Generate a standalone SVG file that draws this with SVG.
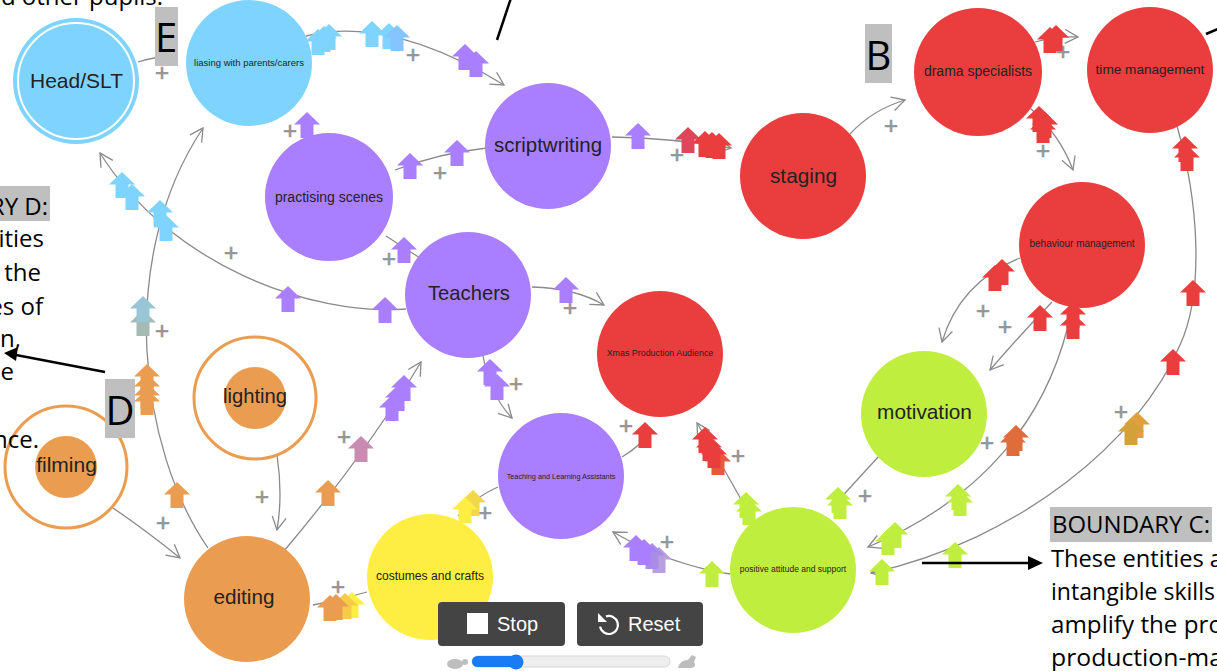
<svg xmlns="http://www.w3.org/2000/svg" xmlns:xlink="http://www.w3.org/1999/xlink" width="1217" height="671" viewBox="0 0 1217 671">
<style>
.edge{fill:none;stroke:#8a8a8a;stroke-width:1.3}
.lbl{font-family:"Liberation Sans",Arial,sans-serif;fill:#222;text-anchor:middle}
.plus{font-family:"Liberation Sans",Arial,sans-serif;font-size:24px;fill:#959595;stroke:#959595;stroke-width:0.7;text-anchor:middle}
.ann{font-family:"Open Sans","Noto Sans",sans-serif;font-size:24px;fill:#000}
.box{fill:#bfbfbf}
.big{font-family:"Open Sans","Noto Sans",sans-serif;font-size:40px;fill:#000;text-anchor:middle}
.btn{fill:#444}
.btxt{font-family:"Liberation Sans",Arial,sans-serif;font-size:20px;fill:#fff}
</style>
<defs>
<marker id="ah" markerUnits="userSpaceOnUse" markerWidth="30" markerHeight="30" viewBox="-15 -15 30 30" refX="0" refY="0" orient="auto">
<path d="M-13,-7 L0,0 L-13,7" fill="none" stroke="#8a8a8a" stroke-width="1.3"/>
</marker>
<path id="s" d="M0,-13 L13,-0.5 L6.5,-0.5 L6.5,13 L-6.5,13 L-6.5,-0.5 L-13,-0.5 Z"/>
</defs>
<rect width="1217" height="671" fill="#fff"/>

<g id="connectors">
<path class="edge" d="M138,62 Q158,56 177,55"/>
<path class="edge" d="M306,36 Q390,15 504,85" marker-end="url(#ah)"/>
<path class="edge" d="M406,309 C310,316 170,265 100,153" marker-end="url(#ah)"/>
<path class="edge" d="M208,548 C140,450 115,260 203,128" marker-end="url(#ah)"/>
<path class="edge" d="M113,508 Q148,532 180,558" marker-end="url(#ah)"/>
<path class="edge" d="M277,455 Q283,495 277,530" marker-end="url(#ah)"/>
<path class="edge" d="M284,551 Q365,455 421,362" marker-end="url(#ah)"/>
<path class="edge" d="M367,592 Q340,600 313,605"/>
<path class="edge" d="M498,487 Q475,497 458,516"/>
<path class="edge" d="M622,457 Q640,446 650,433"/>
<path class="edge" d="M483,356 Q490,395 512,418" marker-end="url(#ah)"/>
<path class="edge" d="M532,287 Q575,288 604,305" marker-end="url(#ah)"/>
<path class="edge" d="M748,512 Q725,470 697,423" marker-end="url(#ah)"/>
<path class="edge" d="M730,574 Q670,565 613,532" marker-end="url(#ah)"/>
<path class="edge" d="M879,456 L836,503"/>
<path class="edge" d="M1072,308 C1050,420 980,500 868,547" marker-end="url(#ah)"/>
<path class="edge" d="M1177,126 C1198,200 1205,290 1180,345 C1140,440 1020,540 871,573" marker-end="url(#ah)"/>
<path class="edge" d="M1020,258 Q960,282 942,342" marker-end="url(#ah)"/>
<path class="edge" d="M1052,302 Q1020,335 990,370" marker-end="url(#ah)"/>
<path class="edge" d="M1030,108 Q1060,135 1073,170" marker-end="url(#ah)"/>
<path class="edge" d="M1035,42 Q1055,36 1078,37" marker-end="url(#ah)"/>
<path class="edge" d="M850,134 Q872,110 905,100" marker-end="url(#ah)"/>
<path class="edge" d="M612,137 Q670,138 731,148" marker-end="url(#ah)"/>
<path class="edge" d="M487,148 Q440,153 395,170"/>
<path class="edge" d="M309,134 L306,121"/>
<path class="edge" d="M420,258 Q400,245 386,236"/>
<g id="plus-labels">
<text class="plus" x="162" y="81">+</text>
<text class="plus" x="413" y="63">+</text>
<text class="plus" x="290" y="139">+</text>
<text class="plus" x="440" y="181">+</text>
<text class="plus" x="677" y="163">+</text>
<text class="plus" x="891" y="134">+</text>
<text class="plus" x="1063" y="60">+</text>
<text class="plus" x="1043" y="159">+</text>
<text class="plus" x="231" y="261">+</text>
<text class="plus" x="389" y="267">+</text>
<text class="plus" x="162" y="339">+</text>
<text class="plus" x="570" y="316">+</text>
<text class="plus" x="516" y="392">+</text>
<text class="plus" x="626" y="434">+</text>
<text class="plus" x="738" y="464">+</text>
<text class="plus" x="983" y="319">+</text>
<text class="plus" x="1005" y="335">+</text>
<text class="plus" x="987" y="451">+</text>
<text class="plus" x="1121" y="420">+</text>
<text class="plus" x="865" y="504">+</text>
<text class="plus" x="262" y="505">+</text>
<text class="plus" x="163" y="531">+</text>
<text class="plus" x="344" y="445">+</text>
<text class="plus" x="338" y="595">+</text>
<text class="plus" x="485" y="521">+</text>
<text class="plus" x="667" y="550">+</text>
</g>
</g>

<g id="node-head">
<circle cx="76" cy="81" r="63" fill="#7FD4FF"/>
<circle cx="76" cy="81" r="58" fill="none" stroke="#fff" stroke-width="2"/>
<text class="lbl" x="76.5" y="88" font-size="21">Head/SLT</text>
</g>
<g id="node-liasing">
<circle cx="249" cy="63" r="63" fill="#7FD4FF"/>
<text class="lbl" x="249" y="66" font-size="9.5">liasing with parents/carers</text>
</g>
<g id="node-practising">
<circle cx="329" cy="197" r="64" fill="#A97FFF"/>
<text class="lbl" x="329" y="202" font-size="14">practising scenes</text>
</g>
<g id="node-scriptwriting">
<circle cx="548" cy="146" r="63" fill="#A97FFF"/>
<text class="lbl" x="548" y="152" font-size="20.5">scriptwriting</text>
</g>
<g id="node-staging">
<circle cx="803" cy="176" r="63" fill="#EA3E3E"/>
<text class="lbl" x="803.5" y="183" font-size="20.8">staging</text>
</g>
<g id="node-drama">
<circle cx="978" cy="72" r="64" fill="#EA3E3E"/>
<text class="lbl" x="978" y="76" font-size="14">drama specialists</text>
</g>
<g id="node-time">
<circle cx="1150" cy="70" r="63" fill="#EA3E3E"/>
<text class="lbl" x="1150" y="74" font-size="13.6">time management</text>
</g>
<g id="node-behaviour">
<circle cx="1082" cy="245" r="63" fill="#EA3E3E"/>
<text class="lbl" x="1082" y="247" font-size="10">behaviour management</text>
</g>
<g id="node-teachers">
<circle cx="468" cy="295" r="63" fill="#A97FFF"/>
<text class="lbl" x="469" y="300" font-size="20.2">Teachers</text>
</g>
<g id="node-xmas">
<circle cx="660" cy="354" r="63" fill="#EA3E3E"/>
<text class="lbl" x="660" y="356" font-size="8.9">Xmas Production Audience</text>
</g>
<g id="node-tla">
<circle cx="561" cy="476" r="63" fill="#A97FFF"/>
<text class="lbl" x="561" y="479" font-size="7.3">Teaching and Learning Assistants</text>
</g>
<g id="node-costumes">
<circle cx="430" cy="577" r="63" fill="#FEEE43"/>
<text class="lbl" x="430" y="580" font-size="12.1">costumes and crafts</text>
</g>
<g id="node-editing">
<circle cx="247" cy="599" r="63" fill="#EA9D51"/>
<text class="lbl" x="244" y="604" font-size="20.7">editing</text>
</g>
<g id="node-lighting">
<circle cx="255" cy="398" r="61" fill="none" stroke="#EA9D51" stroke-width="3"/>
<circle cx="255" cy="398" r="31" fill="#EA9D51"/>
<text class="lbl" x="255" y="403" font-size="20.2">lighting</text>
</g>
<g id="node-filming">
<circle cx="66" cy="467" r="61" fill="none" stroke="#EA9D51" stroke-width="3"/>
<circle cx="66" cy="467" r="31" fill="#EA9D51"/>
<text class="lbl" x="66.5" y="472" font-size="21">filming</text>
</g>
<g id="node-motivation">
<circle cx="924" cy="414" r="63" fill="#BFEE3F"/>
<text class="lbl" x="924.5" y="419" font-size="20.8">motivation</text>
</g>
<g id="node-positive">
<circle cx="793" cy="570" r="63" fill="#BFEE3F"/>
<text class="lbl" x="793" y="572" font-size="8.5">positive attitude and support</text>
</g>

<g id="signals">
<use href="#s" x="318" y="42" fill="#7FD4FF"/>
<use href="#s" x="324" y="39" fill="#7FD4FF"/>
<use href="#s" x="329" y="37" fill="#7FD4FF"/>
<use href="#s" x="372" y="34" fill="#7FD4FF"/>
<use href="#s" x="389" y="36" fill="#7FD4FF"/>
<use href="#s" x="397" y="38" fill="#84c4ff"/>
<use href="#s" x="465" y="57" fill="#A97FFF"/>
<use href="#s" x="476" y="64" fill="#A97FFF"/>
<use href="#s" x="638" y="136" fill="#A97FFF"/>
<use href="#s" x="688" y="140" fill="#e0465a"/>
<use href="#s" x="705" y="144" fill="#EA3E3E"/>
<use href="#s" x="712" y="145" fill="#EA3E3E"/>
<use href="#s" x="719" y="146" fill="#EA3E3E"/>
<use href="#s" x="457" y="153" fill="#A97FFF"/>
<use href="#s" x="410" y="166" fill="#A97FFF"/>
<use href="#s" x="307" y="125" fill="#A97FFF"/>
<use href="#s" x="1050" y="40" fill="#EA3E3E"/>
<use href="#s" x="1056" y="38" fill="#EA3E3E"/>
<use href="#s" x="1039" y="119" fill="#EA3E3E"/>
<use href="#s" x="1045" y="125" fill="#EA3E3E"/>
<use href="#s" x="1043" y="130" fill="#EA3E3E"/>
<use href="#s" x="1185" y="149" fill="#EA3E3E"/>
<use href="#s" x="1187" y="158" fill="#EA3E3E"/>
<use href="#s" x="122" y="185" fill="#7FD4FF"/>
<use href="#s" x="132" y="197" fill="#7FD4FF"/>
<use href="#s" x="160" y="213" fill="#7FD4FF"/>
<use href="#s" x="166" y="228" fill="#7FD4FF"/>
<use href="#s" x="143" y="323" fill="#a6bab4"/>
<use href="#s" x="143" y="309" fill="#99c6d6"/>
<use href="#s" x="147" y="402" fill="#EA9D51"/>
<use href="#s" x="147" y="396" fill="#EA9D51"/>
<use href="#s" x="147" y="387" fill="#EA9D51"/>
<use href="#s" x="147" y="377" fill="#EA9D51"/>
<use href="#s" x="177" y="495" fill="#EA9D51"/>
<use href="#s" x="288" y="299" fill="#A97FFF"/>
<use href="#s" x="385" y="310" fill="#A97FFF"/>
<use href="#s" x="404" y="250" fill="#A97FFF"/>
<use href="#s" x="566" y="290" fill="#A97FFF"/>
<use href="#s" x="490" y="372" fill="#A97FFF"/>
<use href="#s" x="497" y="387" fill="#A97FFF"/>
<use href="#s" x="392" y="408" fill="#A97FFF"/>
<use href="#s" x="398" y="398" fill="#A97FFF"/>
<use href="#s" x="404" y="388" fill="#A97FFF"/>
<use href="#s" x="361" y="449" fill="#c98bb0"/>
<use href="#s" x="328" y="493" fill="#EA9D51"/>
<use href="#s" x="352" y="605" fill="#FEEE43"/>
<use href="#s" x="345" y="606" fill="#f5cc48"/>
<use href="#s" x="336" y="607" fill="#EA9D51"/>
<use href="#s" x="330" y="608" fill="#EA9D51"/>
<use href="#s" x="473" y="503" fill="#f0d84a"/>
<use href="#s" x="465" y="510" fill="#FEEE43"/>
<use href="#s" x="645" y="435" fill="#EA3E3E"/>
<use href="#s" x="718" y="462" fill="#e8583d"/>
<use href="#s" x="714" y="455" fill="#EA3E3E"/>
<use href="#s" x="709" y="448" fill="#EA3E3E"/>
<use href="#s" x="705" y="440" fill="#EA3E3E"/>
<use href="#s" x="659" y="560" fill="#b7a0dc"/>
<use href="#s" x="652" y="556" fill="#a98be8"/>
<use href="#s" x="644" y="552" fill="#A97FFF"/>
<use href="#s" x="636" y="548" fill="#A97FFF"/>
<use href="#s" x="712" y="574" fill="#BFEE3F"/>
<use href="#s" x="746" y="505" fill="#BFEE3F"/>
<use href="#s" x="749" y="512" fill="#BFEE3F"/>
<use href="#s" x="838" y="500" fill="#BFEE3F"/>
<use href="#s" x="840" y="506" fill="#BFEE3F"/>
<use href="#s" x="1016" y="438" fill="#e06c3c"/>
<use href="#s" x="1013" y="443" fill="#e06c3c"/>
<use href="#s" x="958" y="497" fill="#BFEE3F"/>
<use href="#s" x="960" y="503" fill="#BFEE3F"/>
<use href="#s" x="895" y="535" fill="#BFEE3F"/>
<use href="#s" x="888" y="542" fill="#BFEE3F"/>
<use href="#s" x="882" y="572" fill="#BFEE3F"/>
<use href="#s" x="955" y="555" fill="#BFEE3F"/>
<use href="#s" x="1137" y="425" fill="#e0a040"/>
<use href="#s" x="1131" y="432" fill="#d4a03a"/>
<use href="#s" x="1173" y="362" fill="#EA3E3E"/>
<use href="#s" x="1193" y="293" fill="#EA3E3E"/>
<use href="#s" x="1002" y="272" fill="#EA3E3E"/>
<use href="#s" x="995" y="278" fill="#EA3E3E"/>
<use href="#s" x="1040" y="318" fill="#EA3E3E"/>
<use href="#s" x="1073" y="315" fill="#EA3E3E"/>
<use href="#s" x="1073" y="326" fill="#EA3E3E"/>
</g>

<g id="controls">
<rect class="btn" x="438" y="602" width="127" height="44" rx="4"/>
<rect x="467" y="613" width="21" height="21" fill="#fff"/>
<text class="btxt" x="497" y="631">Stop</text>
<rect class="btn" x="577" y="602" width="126" height="44" rx="4"/>
<path d="M605.9,616.5 A9,9 0 1 1 600.1,626.6" fill="none" stroke="#fff" stroke-width="2.2"/>
<polygon points="598,613 598,622 607,622" fill="#fff"/>
<text class="btxt" x="628" y="631">Reset</text>
<rect x="472" y="656" width="198" height="11" rx="5.5" fill="#eee" stroke="#d6d6d6"/>
<rect x="472" y="656" width="44" height="11" rx="5.5" fill="#1a7cf5"/>
<circle cx="516" cy="662" r="7.5" fill="#1a7cf5"/>
<ellipse cx="455" cy="664" rx="8" ry="5" fill="#bdbdbd"/>
<circle cx="465" cy="662" r="3" fill="#bdbdbd"/>
<path d="M678,668 Q680,660 688,660 L692,655 L696,657 L694,662 Q697,666 692,668 Z" fill="#bdbdbd"/>
</g>

<g id="annotations">
<text class="ann" x="163" y="5" text-anchor="end">d other pupils.</text>
<line x1="497" y1="40" x2="511" y2="-2" stroke="#000" stroke-width="2.5"/>
<line x1="1206" y1="34" x2="1220" y2="28" stroke="#000" stroke-width="2.5"/>
<rect class="box" x="155" y="7" width="23" height="59"/>
<text class="big" x="166" y="52">E</text>
<rect class="box" x="865" y="24" width="27" height="59"/>
<text class="big" x="878.5" y="70">B</text>
<rect class="box" x="105" y="379" width="30" height="59"/>
<text class="big" x="120" y="425" font-size="41">D</text>
<rect class="box" x="0" y="186" width="50" height="35"/>
<text class="ann" x="48" y="215" text-anchor="end">RY D:</text>
<text class="ann" x="44" y="247" text-anchor="end">ities</text>
<text class="ann" x="41" y="281" text-anchor="end">the</text>
<text class="ann" x="43" y="315" text-anchor="end">es of</text>
<text class="ann" x="21" y="347" text-anchor="end">n,</text>
<text class="ann" x="14" y="380" text-anchor="end">e</text>
<text class="ann" x="39" y="448" text-anchor="end">nce.</text>
<line x1="105" y1="372" x2="16" y2="355" stroke="#000" stroke-width="2.5"/>
<polygon points="4,353 18,347 16,361" fill="#000"/>
<rect class="box" x="1050" y="507" width="162" height="35"/>
<text class="ann" x="1052" y="533" textLength="158" lengthAdjust="spacingAndGlyphs">BOUNDARY C:</text>
<text class="ann" x="1051" y="567" textLength="172" lengthAdjust="spacingAndGlyphs">These entities a</text>
<text class="ann" x="1051" y="600" textLength="164" lengthAdjust="spacingAndGlyphs">intangible skills</text>
<text class="ann" x="1051" y="633" textLength="172" lengthAdjust="spacingAndGlyphs">amplify the pro</text>
<text class="ann" x="1051" y="666" textLength="172" lengthAdjust="spacingAndGlyphs">production-ma</text>
<line x1="922" y1="563" x2="1030" y2="563" stroke="#000" stroke-width="2.5"/>
<polygon points="1043,563 1028,556 1028,570" fill="#000"/>
</g>
</svg>
